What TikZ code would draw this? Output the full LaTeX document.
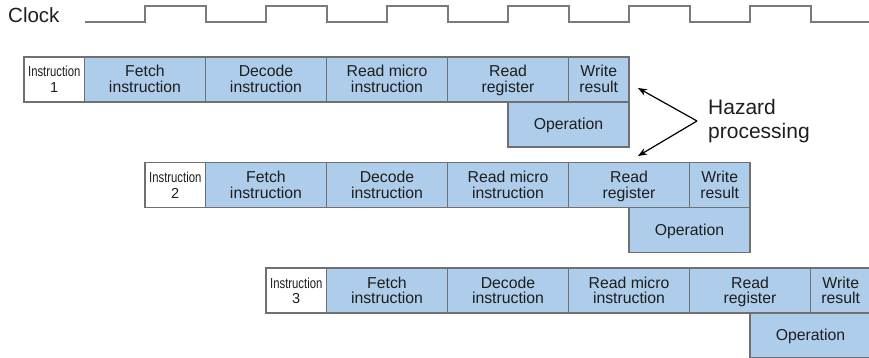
\documentclass[tikz,border=0pt]{standalone}
\usepackage{fontspec}
\setmainfont{Liberation Sans}
\usetikzlibrary{arrows.meta}
\definecolor{stagefill}{HTML}{AECDEB}
\definecolor{edgegray}{HTML}{707070}
\definecolor{clockgray}{HTML}{7A7A7A}
\definecolor{inkgray}{HTML}{1E1E1E}
% fixed first-line height and last-line depth keep every label on the same baselines
\newcommand{\tl}[2]{\rule{0pt}{14.5pt}#1\\#2\rule[-4pt]{0pt}{4pt}}
\newcommand{\ol}[1]{\rule{0pt}{14pt}#1\rule[-4pt]{0pt}{4pt}}
\tikzset{
  stagebox/.style={draw=edgegray, line width=1.3pt, fill=stagefill,
    minimum height=45pt, inner sep=0pt, outer sep=0pt, align=center,
    anchor=north west, text=inkgray, font=\fontsize{15.8}{15.5}\selectfont},
  wide/.style={minimum width=121pt},
  narrow/.style={minimum width=60.5pt},
  labelbox/.style={stagebox, fill=white, font=\fontsize{14.5}{15.5}\selectfont},
  clockline/.style={draw=clockgray, line width=2pt},
  pointer/.style={draw=black, line width=1.2pt, -{Stealth[length=9pt,width=7pt]}},
}
\begin{document}
\begin{tikzpicture}[x=1pt,y=-1pt]
\clip (0,0) rectangle (869,358);

% clock signal
\node[font=\fontsize{20.5}{24}\selectfont, text=inkgray, anchor=base west, inner sep=0pt] (clk) at (8,23) {Clock};
\draw[clockline] (85,22)
  \foreach \k in {0,...,5}{
    -- (145+121*\k,22) -- (145+121*\k,6) -- (205.5+121*\k,6) -- (205.5+121*\k,22)
  } -- (869,22);

% pipeline rows
\foreach \r in {1,2,3}{
  \pgfmathsetmacro\xs{24+121*(\r-1)}
  \pgfmathsetmacro\ys{57+105.5*(\r-1)}
  \node[labelbox, narrow] (i\r) at (\xs,\ys) {\tl{\scalebox{0.78}[1]{Instruction}}{\r}};
  \node[stagebox, wide] (f\r) at (i\r.north east) {\tl{Fetch}{instruction}};
  \node[stagebox, wide] (d\r) at (f\r.north east) {\tl{Decode}{instruction}};
  \node[stagebox, wide] (m\r) at (d\r.north east) {\tl{Read micro}{instruction}};
  \node[stagebox, wide] (g\r) at (m\r.north east) {\tl{Read}{register}};
  \node[stagebox, narrow] (w\r) at (g\r.north east) {\tl{Write}{result}};
  \node[stagebox, wide, anchor=north east] (o\r) at (w\r.south east) {\ol{Operation}};
}

% hazard annotation
\node[font=\fontsize{21}{24}\selectfont, text=inkgray, align=left, anchor=west, inner sep=0pt] (hz) at (708,121.5) {Hazard\\processing};
\coordinate (hv) at (697,121);
\coordinate (ht) at (638,88);
\coordinate (hb) at (638,156);
\draw[pointer] (hv) -- (ht);
\draw[pointer] (hv) -- (hb);
\end{tikzpicture}
\end{document}
